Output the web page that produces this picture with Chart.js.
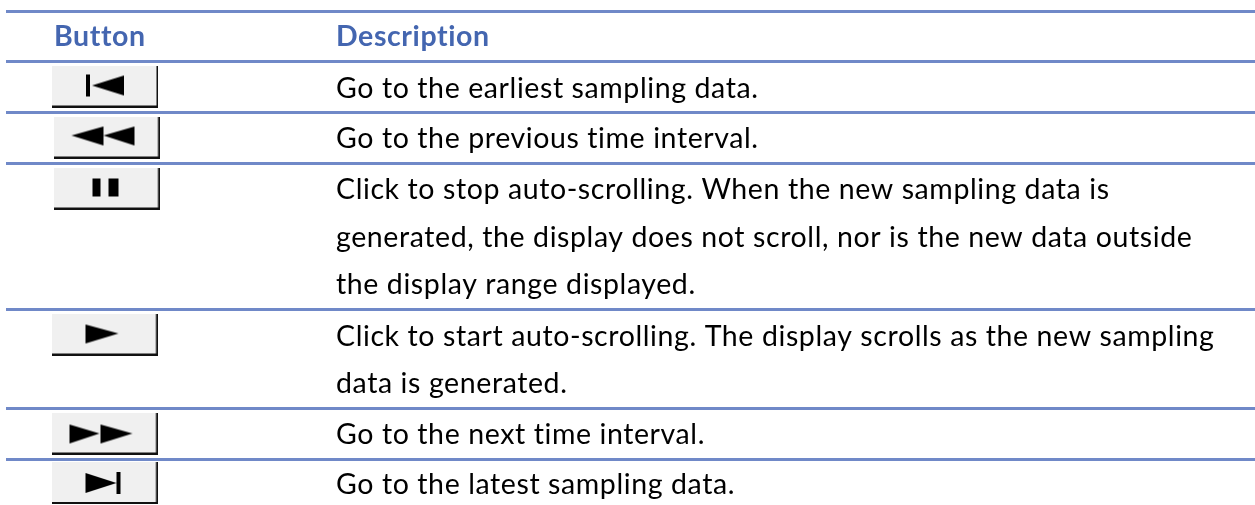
<!DOCTYPE html>
<html>
<head>
<meta charset="utf-8">
<script src="https://cdn.jsdelivr.net/npm/chart.js@4"></script>
<style>
  html, body { margin: 0; background: #fff; }
  canvas { display: block; }
</style>
</head>
<body>
<canvas id="tableChart" width="1255" height="505"></canvas>
<script>
const headers = ['Button', 'Description'];
const buttonKinds = ['first', 'prev', 'pause', 'play', 'next', 'last'];
const descriptionLines = [
    'Go to the earliest sampling data.',
    'Go to the previous time interval.',
    'Click to stop auto-scrolling. When the new sampling data is',
    'generated, the display does not scroll, nor is the new data outside',
    'the display range displayed.',
    'Click to start auto-scrolling. The display scrolls as the new sampling',
    'data is generated.',
    'Go to the next time interval.',
    'Go to the latest sampling data.',
];

// axis values, the scales run 0-1255 and 0-505
const ruleValues = [11.5, 61.5, 112.5, 163.5, 309.5, 408.5, 459.5];
const lineValues = [98, 148, 199, 247, 294, 346, 393, 444, 494];
const buttonX = [105, 106.5, 106.5, 104.5, 104.5, 104.5];
const buttonY = [86.5, 137.5, 188.5, 334.5, 433.5, 483];

const BLUE = '#4466b0';
const RULE = '#7089c8';
const FONT = 'Lato, Carlito, sans-serif';

// button faces, used as point images
const glyphs = {
    first: [[[34, 9], [38, 9], [38, 31], [34, 31]], [[40, 20], [72, 10], [72, 30]]],
    prev: [[[18, 19], [50, 10], [50, 29]], [[50, 19], [81, 10], [81, 29]]],
    pause: [[[39, 11], [47, 11], [47, 29], [39, 29]], [[55, 11], [65, 11], [65, 29], [55, 29]]],
    play: [[[34, 11], [67, 20], [34, 30]]],
    next: [[[18, 12], [48, 21], [18, 31]], [[49, 12], [81, 21], [49, 31]]],
    last: [[[34, 11], [65, 21], [34, 31]], [[65, 10], [69, 10], [69, 32], [65, 32]]],
};

function buttonImage(kind) {
    const c = document.createElement('canvas');
    c.width = 106;
    c.height = 42;
    const g = c.getContext('2d');
    g.fillStyle = '#f0f0f0';
    g.fillRect(0, 0, 105, 40);
    g.fillStyle = '#111';
    g.fillRect(0, 40, 106, 2);
    g.fillRect(104.5, 0, 1.5, 42);
    g.filter = 'blur(0.5px)';
    g.fillStyle = '#000';
    glyphs[kind].forEach(poly => {
        g.beginPath();
        poly.forEach((p, i) => (i ? g.lineTo(p[0], p[1]) : g.moveTo(p[0], p[1])));
        g.closePath();
        g.fill();
    });
    return c;
}

const tableText = {
    id: 'tableText',
    afterDatasetsDraw(chart) {
        const { ctx, scales } = chart;
        const x = scales.x;
        const y = scales.y;
        ctx.save();
        ctx.textBaseline = 'alphabetic';
        ctx.textAlign = 'left';
        ctx.letterSpacing = '0.6px';
        ctx.font = 'bold 28.5px ' + FONT;
        ctx.fillStyle = BLUE;
        ctx.fillText(headers[0], x.getPixelForValue(54), y.getPixelForValue(46));
        ctx.fillText(headers[1], x.getPixelForValue(336), y.getPixelForValue(46));
        ctx.font = '28.5px ' + FONT;
        ctx.fillStyle = '#000';
        descriptionLines.forEach((line, i) => {
            ctx.fillText(line, x.getPixelForValue(336), y.getPixelForValue(lineValues[i]));
        });
        ctx.restore();
    },
};

const ruleSets = ruleValues.map(v => ({
    type: 'line',
    data: [{ x: 6, y: v }, { x: 1255, y: v }],
    borderColor: RULE,
    borderWidth: 3,
    pointRadius: 0,
}));

const myChart = new Chart(document.getElementById('tableChart').getContext('2d'), {
    type: 'scatter',
    data: {
        datasets: [
            ...ruleSets,
            {
                data: buttonKinds.map((k, i) => ({ x: buttonX[i], y: buttonY[i] })),
                pointStyle: buttonKinds.map(buttonImage),
                pointRadius: 21,
            },
        ],
    },
    options: {
        responsive: false,
        animation: false,
        events: [],
        layout: { padding: 0, autoPadding: false },
        plugins: { legend: { display: false }, tooltip: { enabled: false } },
        scales: {
            x: { type: 'linear', min: 0, max: 1255, display: false },
            y: { type: 'linear', min: 0, max: 505, reverse: true, display: false },
        },
    },
    plugins: [tableText],
});
</script>
</body>
</html>
